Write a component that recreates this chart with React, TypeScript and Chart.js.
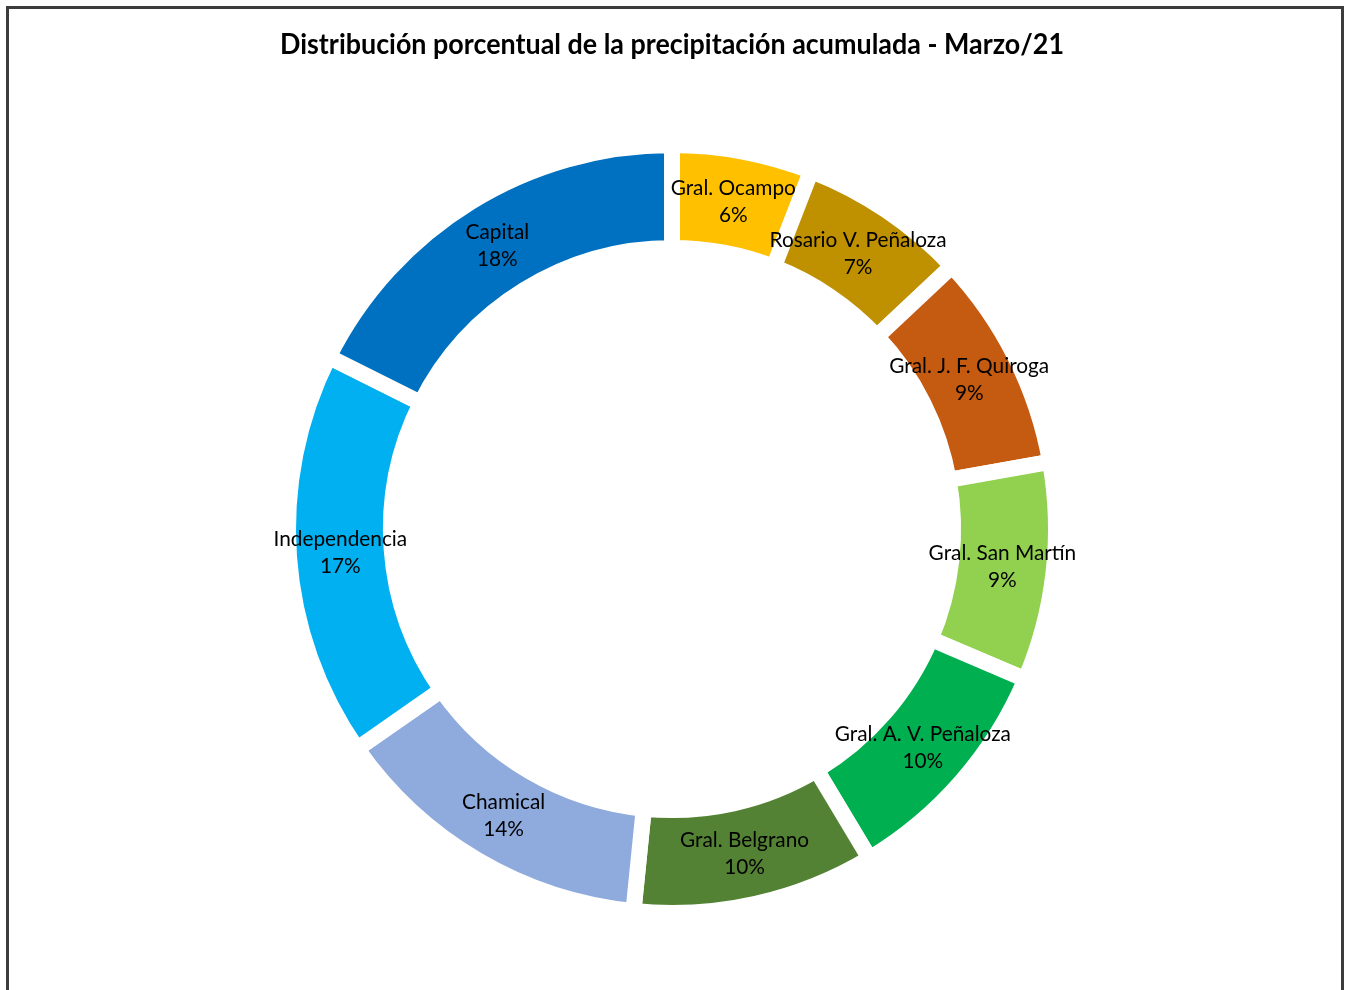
import React, { useEffect, useRef } from "react";
import { Chart, registerables } from "chart.js";

Chart.register(...registerables);

const TITLE = "Distribución porcentual de la precipitación acumulada - Marzo/21";
const departments = [
  "Gral. Ocampo",
  "Rosario V. Peñaloza",
  "Gral. J. F. Quiroga",
  "Gral. San Martín",
  "Gral. A. V. Peñaloza",
  "Gral. Belgrano",
  "Chamical",
  "Independencia",
  "Capital",
];
const shares = [5.9, 7.1, 9.2, 9.2, 10.0, 10.2, 13.7, 17.1, 17.6];
const colors = [
  "#FFC000",
  "#BF9000",
  "#C55A11",
  "#92D050",
  "#00B050",
  "#548235",
  "#8FAADC",
  "#00B0F0",
  "#0070C0",
];

const FONT = "Lato, 'Open Sans', sans-serif";

const labelPlugin = {
  id: "arcLabels",
  afterDatasetsDraw(chart: any) {
    const ctx = chart.ctx;
    const meta = chart.getDatasetMeta(0);
    const data = chart.data.datasets[0].data as number[];
    const total = data.reduce((a, b) => a + b, 0);
    ctx.save();
    ctx.font = `20.8px ${FONT}`;
    ctx.fillStyle = "#000000";
    ctx.textAlign = "center";
    ctx.textBaseline = "middle";
    meta.data.forEach((arc: any, i: number) => {
      const p = arc.getCenterPoint();
      const pct = Math.round((data[i] / total) * 100) + "%";
      ctx.fillText(chart.data.labels[i], p.x, p.y - 13.5);
      ctx.fillText(pct, p.x, p.y + 13.5);
    });
    ctx.restore();
  },
};

export default function App() {
  const ref = useRef<HTMLCanvasElement | null>(null);
  useEffect(() => {
    if (!ref.current) return;
    const chart = new Chart(ref.current, {
      type: "doughnut",
      data: {
        labels: departments,
        datasets: [
          {
            data: shares,
            backgroundColor: colors,
            borderColor: "#ffffff",
            borderWidth: 16,
            hoverBorderWidth: 16,
            hoverOffset: 0,
          },
        ],
      },
      options: {
        responsive: false,
        animation: false,
        cutout: "73.2%",
        layout: { padding: { top: 0, bottom: 69, left: 280, right: 282 } },
        plugins: {
          legend: { display: false },
          tooltip: { enabled: false },
          title: {
            display: true,
            text: TITLE,
            color: "#000000",
            font: { family: FONT, size: 28, weight: "bold", lineHeight: 1.2 },
            padding: { top: 28, bottom: 75.4 },
          },
        },
      },
      plugins: [labelPlugin],
    });
    return () => chart.destroy();
  }, []);
  return (
    <div
      style={{
        position: "fixed",
        left: 0,
        top: 0,
        width: 1346,
        height: 990,
        overflow: "hidden",
        background: "#ffffff",
      }}
    >
      <div
        style={{
          position: "absolute",
          left: 6,
          top: 6,
          width: 1332,
          height: 1100,
          borderTop: "3px solid #3c3c3c",
          borderLeft: "3px solid #3c3c3c",
          borderRight: "3px solid #3c3c3c",
        }}
      />
      <canvas
        ref={ref}
        width={1346}
        height={990}
        style={{ position: "absolute", left: 0, top: 0, width: 1346, height: 990 }}
      />
    </div>
  );
}
